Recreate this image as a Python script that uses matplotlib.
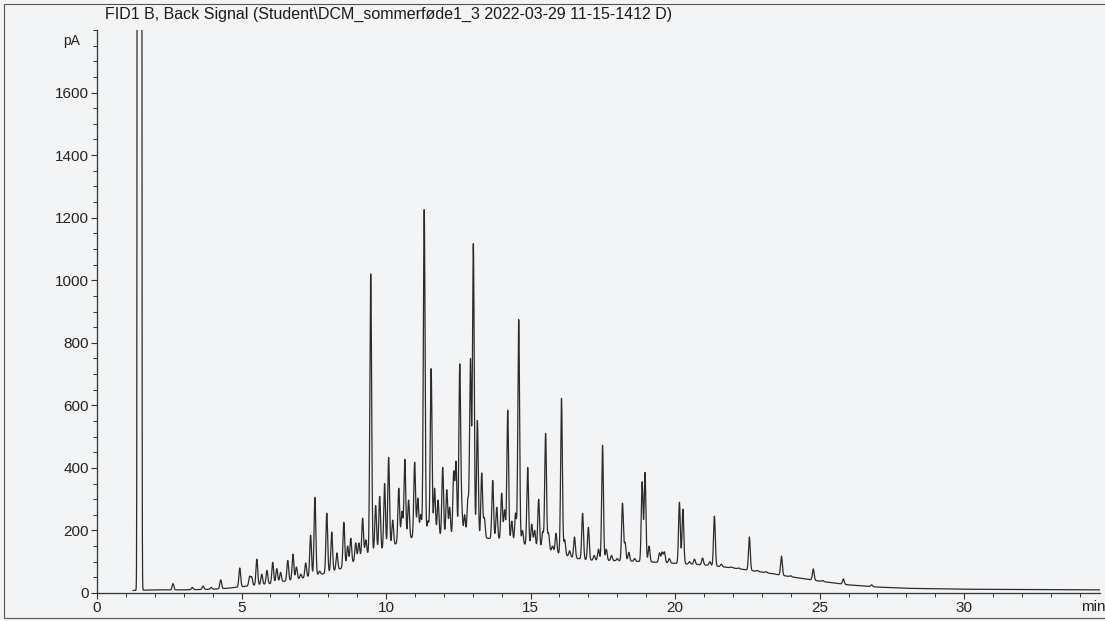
import numpy as np
import matplotlib.pyplot as plt
from matplotlib.patches import Rectangle

plt.rcParams['font.family'] = ['Liberation Sans', 'DejaVu Sans']

title = "FID1 B, Back Signal (Student\\DCM_sommerføde1_3 2022-03-29 11-15-1412 D)"

# baseline drift (min, pA)
base_t = [1.25, 2, 3, 4, 4.5, 5, 5.5, 6, 6.5, 7, 7.5, 8, 8.5, 9, 9.5, 10, 10.5,
          11, 11.5, 12, 12.5, 13, 13.5, 14, 14.5, 15, 15.5, 16, 16.5, 17, 18,
          19, 20, 21, 22, 23, 24, 25, 26, 27, 28, 30, 34.8]
base_pa = [8, 10, 10, 12, 15, 20, 25, 30, 38, 45, 55, 65, 80, 105, 130, 140, 165,
           180, 185, 180, 178, 175, 175, 170, 160, 150, 140, 125, 112, 105, 103,
           100, 95, 90, 80, 67, 52, 38, 26, 19, 15, 12, 10]

# retention time (min) and apex signal (pA)
peak_t = [2.63, 3.3, 3.67, 3.95, 4.28, 4.94, 5.28, 5.35, 5.53, 5.7, 5.88, 6.08,
          6.22, 6.35, 6.6, 6.78, 6.9, 7.05, 7.22, 7.39, 7.54, 7.7, 7.95, 8.12,
          8.3, 8.54, 8.67, 8.78, 8.95, 9.06, 9.19, 9.3, 9.47, 9.64, 9.78, 9.95,
          10.09, 10.23, 10.44, 10.55, 10.65, 10.78, 10.99, 11.1, 11.2, 11.32,
          11.45, 11.56, 11.68, 11.8, 11.96, 12.1, 12.2, 12.34, 12.42, 12.55,
          12.62, 12.72, 12.83, 12.92, 13.02, 13.16, 13.31, 13.4, 13.69, 13.83,
          14.0, 14.1, 14.21, 14.35, 14.48, 14.59, 14.72, 14.9, 15.04, 15.14,
          15.28, 15.42, 15.52, 15.62, 15.76, 15.88, 16.07, 16.18, 16.35, 16.52,
          16.8, 17.0, 17.2, 17.35, 17.49, 17.62, 17.8, 18.0, 18.18, 18.27, 18.4,
          18.6, 18.86, 18.96, 19.1, 19.46, 19.55, 19.63, 19.8, 20.15, 20.27,
          20.5, 20.67, 20.95, 21.2, 21.36, 21.6, 21.95, 22.2, 22.57, 22.85,
          23.15, 23.4, 23.68, 24.0, 24.78, 25.1, 25.82, 26.8]
peak_pa = [30, 18, 22, 18, 42, 80, 52, 50, 108, 60, 72, 98,
           78, 66, 104, 124, 83, 60, 96, 185, 306, 70, 255, 195,
           128, 226, 150, 175, 160, 160, 239, 170, 1020, 280, 309, 350,
           433, 233, 335, 260, 427, 297, 418, 303, 250, 1228,
           230, 718, 335, 297, 402, 330, 274, 383, 415, 727,
           260, 250, 297, 745, 1116, 552, 383, 239, 360, 274,
           319, 265, 584, 230, 255, 874, 200, 402, 220, 200,
           300, 195, 510, 191, 150, 191, 622, 170, 135, 179,
           255, 210, 120, 140, 472, 140, 120, 110, 287, 160, 130,
           110, 355, 385, 150, 128, 130, 131, 110, 290, 268,
           100, 108, 112, 100, 246, 92, 83, 80, 179, 72,
           68, 62, 118, 55, 77, 40, 45, 26]

# solvent front, runs far off scale
solvent_t = 1.47
solvent_pa = 1.0e6

t = np.arange(1.25, 34.7, 0.004)
base = np.interp(t, base_t, base_pa)
signal = base.copy()
for pt, pa in zip(peak_t, peak_pa):
    amp = max(pa - np.interp(pt, base_t, base_pa), 0)
    signal += amp * np.exp(-0.5 * ((t - pt) / 0.03) ** 2)
signal += solvent_pa * np.exp(-0.5 * ((t - solvent_t) / 0.024) ** 2)

fig = plt.figure(figsize=(11.05, 6.21), dpi=100, facecolor='#f3f4f6')
ax = fig.add_axes([97 / 1105, 28 / 621, 1003 / 1105, 563 / 621])
ax.set_facecolor('#f3f4f6')
ax.plot(t, signal, color='#2b2b2b', lw=0.9)

ax.set_xlim(0, 34.7)
ax.set_ylim(0, 1800)
ax.set_xticks(np.arange(0, 35, 5))
ax.set_xticks(np.arange(0, 35, 1), minor=True)
ax.set_yticks(np.arange(0, 1601, 200))
ax.set_yticks(np.arange(0, 1801, 50), minor=True)
for s in ['top', 'right']:
    ax.spines[s].set_visible(False)
for s in ['left', 'bottom']:
    ax.spines[s].set_color('#333333')
    ax.spines[s].set_linewidth(0.9)
ax.tick_params(which='major', length=4, width=0.8, color='#333333',
               labelsize=11, labelcolor='#222222', pad=2)
ax.tick_params(which='minor', length=3, width=0.7, color='#333333')

ax.text(-0.6, 1765, 'pA', ha='right', va='center', fontsize=10, color='#222222')
ax.text(34.05, -45, 'min', ha='left', va='center', fontsize=11, color='#222222',
        clip_on=False)
fig.text(105 / 1105, 1 - 14 / 621, title, ha='left', va='center', fontsize=11.5,
         color='#1a1a1a')

# outer frame of the printout
fig.patches.append(Rectangle((4 / 1105, 3 / 621), 1.2, 1 - 7 / 621,
                             transform=fig.transFigure, fill=False,
                             edgecolor='#555555', lw=0.8))

fig.savefig('out.png', dpi=100, facecolor=fig.get_facecolor())
